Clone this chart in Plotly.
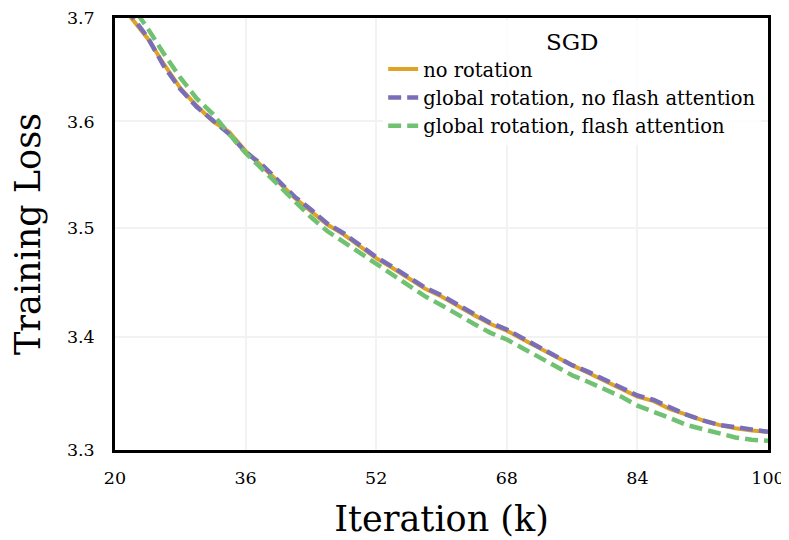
import plotly.graph_objects as go
import math

iterations = list(range(20, 101, 2))

no_rotation = [3.722, 3.700, 3.680, 3.655, 3.632, 3.615, 3.600, 3.590, 3.572, 3.558,
               3.543, 3.528, 3.516, 3.503, 3.494, 3.483, 3.472, 3.463, 3.454, 3.444,
               3.437, 3.428, 3.420, 3.412, 3.406, 3.398, 3.390, 3.382, 3.375, 3.368,
               3.361, 3.354, 3.347, 3.343, 3.336, 3.331, 3.326, 3.322, 3.319, 3.317,
               3.316]

global_no_flash = [3.724, 3.703, 3.681, 3.653, 3.631, 3.614, 3.601, 3.588, 3.571, 3.559,
                   3.544, 3.529, 3.517, 3.504, 3.495, 3.484, 3.473, 3.464, 3.455, 3.445,
                   3.438, 3.429, 3.421, 3.413, 3.407, 3.399, 3.391, 3.383, 3.375, 3.369,
                   3.362, 3.355, 3.348, 3.344, 3.337, 3.331, 3.326, 3.322, 3.320, 3.318,
                   3.316]

global_flash = [3.735, 3.712, 3.690, 3.665, 3.642, 3.622, 3.607, 3.588, 3.570, 3.555,
                3.540, 3.524, 3.510, 3.497, 3.487, 3.476, 3.466, 3.456, 3.447, 3.437,
                3.429, 3.420, 3.412, 3.404, 3.398, 3.390, 3.382, 3.374, 3.366, 3.360,
                3.354, 3.347, 3.339, 3.334, 3.328, 3.322, 3.318, 3.314, 3.311, 3.309,
                3.308]

x_ticks = [20, 36, 52, 68, 84, 100]
y_ticks = [3.3, 3.4, 3.5, 3.6, 3.7]

font_family = "DejaVu Serif"

fig = go.Figure()
fig.add_trace(go.Scatter(x=iterations, y=no_rotation, mode="lines", name="no rotation",
                         line=dict(color="#E0A325", width=4)))
fig.add_trace(go.Scatter(x=iterations, y=global_no_flash, mode="lines",
                         name="global rotation, no flash attention",
                         line=dict(color="#7A6FB7", width=4.5, dash="13px,6px")))
fig.add_trace(go.Scatter(x=iterations, y=global_flash, mode="lines",
                         name="global rotation, flash attention",
                         line=dict(color="#70C272", width=4.5, dash="13px,6px")))

fig.update_layout(
    width=789, height=540,
    margin=dict(l=107, r=29, t=10, b=98),
    paper_bgcolor="white", plot_bgcolor="white",
    font=dict(family=font_family, color="black"),
    showlegend=True,
    legend=dict(
        x=0.4107, y=0.9954, xanchor="left", yanchor="top",
        bgcolor="rgba(255,255,255,0.8)", borderwidth=0,
        font=dict(size=19.5, family=font_family),
        title=dict(text="SGD", side="top center", font=dict(size=23, family=font_family)),
    ),
    xaxis=dict(
        range=[20, 100], tickvals=x_ticks, ticktext=[str(v) for v in x_ticks],
        showgrid=True, gridcolor="#F2F2F2", gridwidth=2,
        showline=True, linecolor="black", linewidth=2.5, mirror=True,
        ticks="", tickfont=dict(size=17.5), ticklabelstandoff=10,
        ticklabeloverflow="allow",
        title=dict(text="Iteration (k)", font=dict(size=35), standoff=20),
        zeroline=False, automargin=False,
    ),
    yaxis=dict(
        type="log", range=[math.log10(3.3), math.log10(3.7)],
        tickvals=y_ticks, ticktext=[f"{v:.1f}" for v in y_ticks],
        showgrid=True, gridcolor="#F2F2F2", gridwidth=2,
        showline=True, linecolor="black", linewidth=2.5, mirror=True,
        ticks="", tickfont=dict(size=17.5), ticklabelstandoff=14,
        ticklabeloverflow="allow",
        title=dict(text="Training Loss", font=dict(size=35), standoff=16),
        zeroline=False, automargin=False,
    ),
)

fig.write_html("out.html")
